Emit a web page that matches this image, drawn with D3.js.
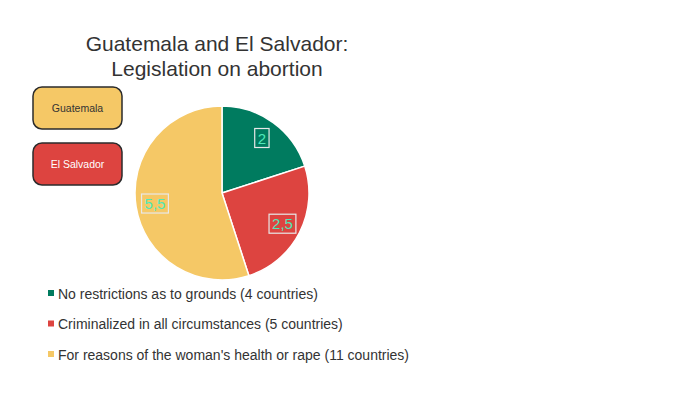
<!DOCTYPE html>
<html>
<head>
<meta charset="utf-8">
<script src="https://cdn.jsdelivr.net/npm/d3@7"></script>
<style>
  body { margin: 0; background: #fff; }
  text { font-family: "Liberation Sans", Arial, sans-serif; }
</style>
</head>
<body>
<svg id="chart" width="700" height="394"></svg>
<script>
const categories = ["No restrictions as to grounds (4 countries)",
    "Criminalized in all circumstances (5 countries)",
    "For reasons of the woman's health or rape (11 countries)"]
const values = [2, 2.5, 5.5]
const labels = ["2", "2,5", "5,5"]
const colors = ["#007b5f", "#dd4440", "#f5c866"]
const countries = ["Guatemala", "El Salvador"]
const countryColors = ["#f5c866", "#dd4440"]
const countryText = ["#333", "#fff"]

const svg = d3.select("#chart")

// title
const title = svg.append("text")
    .attr("text-anchor", "middle")
    .attr("fill", "#333")
    .style("font-size", "21px")
title.append("tspan").attr("x", 217).attr("y", 51).text("Guatemala and El Salvador:")
title.append("tspan").attr("x", 217).attr("y", 76).text("Legislation on abortion")

// country boxes
const boxes = svg.append("g").selectAll("g")
    .data(countries)
    .enter()
    .append("g")
    .attr("transform", (d, i) => "translate(33," + (87 + i * 56) + ")")
boxes.append("rect")
    .attr("width", 89)
    .attr("height", 42)
    .attr("rx", 9)
    .attr("fill", (d, i) => countryColors[i])
    .attr("stroke", "#2b2b2b")
    .attr("stroke-width", 1.5)
boxes.append("text")
    .attr("x", 44.5)
    .attr("y", 24.5)
    .attr("text-anchor", "middle")
    .attr("fill", (d, i) => countryText[i])
    .style("font-size", "10.5px")
    .text(d => d)

// pie
const cx = 222, cy = 193, r = 87
const pie = d3.pie().sort(null).value(d => d)
const arcs = pie(values)
const arc = d3.arc().innerRadius(0).outerRadius(r)
const labelArc = d3.arc().innerRadius(r * 0.78).outerRadius(r * 0.78)

const g = svg.append("g").attr("transform", "translate(" + cx + "," + cy + ")")
g.selectAll("path")
    .data(arcs)
    .enter()
    .append("path")
    .attr("d", arc)
    .attr("fill", (d, i) => colors[i])
    .attr("stroke", "#fff")
    .attr("stroke-width", 1.5)

const lbl = g.selectAll(".lbl")
    .data(arcs)
    .enter()
    .append("g")
    .attr("class", "lbl")
    .attr("transform", d => "translate(" + labelArc.centroid(d) + ")")
lbl.append("text")
    .attr("text-anchor", "middle")
    .attr("dy", "0.36em")
    .attr("fill", "#4fe8b8")
    .style("font-size", "15px")
    .text((d, i) => labels[i])
lbl.each(function () {
    const bb = d3.select(this).select("text").node().getBBox()
    d3.select(this).insert("rect", ":first-child")
        .attr("x", bb.x - 3)
        .attr("y", bb.y - 1)
        .attr("width", bb.width + 6)
        .attr("height", bb.height + 2)
        .attr("fill", "none")
        .attr("stroke", "#e8e8e8")
        .attr("stroke-width", 1.2)
})

// legend
const legend = svg.append("g").selectAll("g")
    .data(categories)
    .enter()
    .append("g")
    .attr("transform", (d, i) => "translate(48," + (294 + i * 30.5) + ")")
legend.append("rect")
    .attr("x", 0)
    .attr("y", -4)
    .attr("width", 6)
    .attr("height", 6)
    .attr("fill", (d, i) => colors[i])
legend.append("text")
    .attr("x", 10)
    .attr("y", 4.5)
    .attr("fill", "#333")
    .style("font-size", "14px")
    .text(d => d)
</script>
</body>
</html>
